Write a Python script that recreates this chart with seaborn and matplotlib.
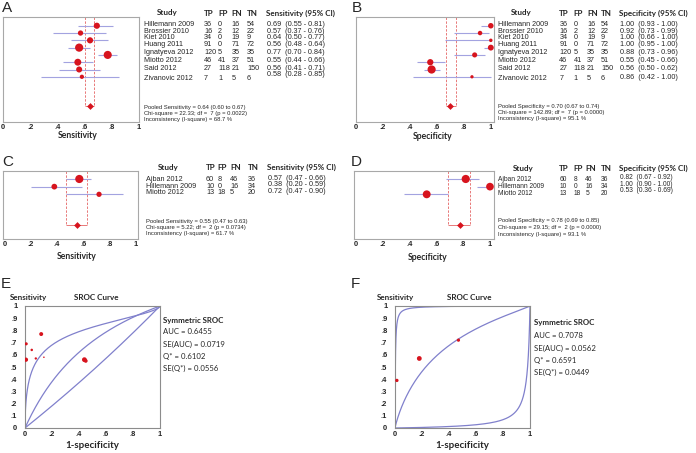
import numpy as np
import pandas as pd
import matplotlib
matplotlib.use("Agg")
import matplotlib.pyplot as plt
import seaborn as sns

# ---------------- data ----------------
studies_ab = ["Hillemann 2009", "Brossier 2010", "Kiet 2010", "Huang 2011",
              "Ignatyeva 2012", "Miotto 2012", "Said 2012", "Zivanovic 2012"]
tp_ab = [36, 16, 34, 91, 120, 46, 27, 7]
fp_ab = [0, 2, 0, 0, 5, 41, 118, 1]
fn_ab = [16, 12, 19, 71, 35, 37, 21, 5]
tn_ab = [54, 22, 9, 72, 35, 51, 150, 6]
sens_ab = [0.69, 0.57, 0.64, 0.56, 0.77, 0.55, 0.56, 0.58]
sens_lo_ab = [0.55, 0.37, 0.50, 0.48, 0.70, 0.44, 0.41, 0.28]
sens_hi_ab = [0.81, 0.76, 0.77, 0.64, 0.84, 0.66, 0.71, 0.85]
spec_ab = [1.00, 0.92, 1.00, 1.00, 0.88, 0.55, 0.56, 0.86]
spec_lo_ab = [0.93, 0.73, 0.66, 0.95, 0.73, 0.45, 0.50, 0.42]
spec_hi_ab = [1.00, 0.99, 1.00, 1.00, 0.96, 0.66, 0.62, 1.00]
pooled_sens_ab = [0.64, 0.60, 0.67]
pooled_spec_ab = [0.70, 0.67, 0.74]

studies_cd = ["Ajban 2012", "Hillemann 2009", "Miotto 2012"]
tp_cd = [60, 10, 13]
fp_cd = [8, 0, 18]
fn_cd = [46, 16, 5]
tn_cd = [36, 34, 20]
sens_cd = [0.57, 0.38, 0.72]
sens_lo_cd = [0.47, 0.20, 0.47]
sens_hi_cd = [0.66, 0.59, 0.90]
spec_cd = [0.82, 1.00, 0.53]
spec_lo_cd = [0.67, 0.90, 0.36]
spec_hi_cd = [0.92, 1.00, 0.69]
pooled_sens_cd = [0.55, 0.47, 0.63]
pooled_spec_cd = [0.78, 0.69, 0.85]

stats_a = ["Pooled Sensitivity = 0.64 (0.60 to 0.67)",
           "Chi-square = 22.33; df =  7 (p = 0.0022)",
           "Inconsistency (I-square) = 68.7 %"]
stats_b = ["Pooled Specificity = 0.70 (0.67 to 0.74)",
           "Chi-square = 142.89; df =  7 (p = 0.0000)",
           "Inconsistency (I-square) = 95.1 %"]
stats_c = ["Pooled Sensitivity = 0.55 (0.47 to 0.63)",
           "Chi-square = 5.22; df =  2 (p = 0.0734)",
           "Inconsistency (I-square) = 61.7 %"]
stats_d = ["Pooled Specificity = 0.78 (0.69 to 0.85)",
           "Chi-square = 29.15; df =  2 (p = 0.0000)",
           "Inconsistency (I-square) = 93.1 %"]

# SROC points (1-specificity with continuity correction, sensitivity)
fpr_e = [0.009, 0.08, 0.05, 0.007, 0.12, 0.45, 0.44, 0.14]
tpr_e = [0.69, 0.57, 0.64, 0.56, 0.77, 0.55, 0.56, 0.58]
fpr_f = [0.18, 0.014, 0.47]
tpr_f = [0.57, 0.39, 0.72]
# SROC curves: logit(sens) = a + b * logit(1-spec)
curves_e = [(1.56, 0.58), (0.897, 1.0), (-0.12, 1.0)]
curves_f = [(6.0, 1.0), (1.1, 0.9), (-4.0, 1.0)]
sroc_e = ["AUC = 0.6455", "SE(AUC) = 0.0719", "Q* = 0.6102", "SE(Q*) = 0.0556"]
sroc_f = ["AUC = 0.7078", "SE(AUC) = 0.0562", "Q* = 0.6591", "SE(Q*) = 0.0449"]

tick_vals = [0, 0.2, 0.4, 0.6, 0.8, 1.0]
tick_labs = ["0", ".2", ".4", ".6", ".8", "1"]
ytick_vals = [0, .1, .2, .3, .4, .5, .6, .7, .8, .9, 1.0]
ytick_labs = ["0", ".1", ".2", ".3", ".4", ".5", ".6", ".7", ".8", ".9", "1"]

# ---------------- style ----------------
sns.set_theme(style="white")
plt.rcParams['font.family'] = ['Liberation Sans', 'DejaVu Sans']

ROWFS = 5.2
RED = "#d7141e"
CI_COL = "#a3a3e0"
PINK = "#e87878"
FRAME = "#a8a8a8"
CURVE = "#8080cc"
HEAD = dict(family=['Lato', 'DejaVu Sans'], fontweight='bold')

W, H = 696, 453
fig = plt.figure(figsize=(6.96, 4.53), dpi=100)


def add_ax(l, t, r, b):
    return fig.add_axes([l / W, 1 - b / H, (r - l) / W, (b - t) / H])


def txt(x, y, s, **kw):
    kw.setdefault('va', 'center')
    kw.setdefault('ha', 'left')
    fig.text(x / W, 1 - y / H, s, **kw)


def frame(ax, col):
    for sp in ax.spines.values():
        sp.set_visible(True)
        sp.set_color(col)
        sp.set_linewidth(0.8)


def forest(box, xlim, ylim, est, lo, hi, n, pooled, prow):
    ax = add_ax(*box)
    rows = np.arange(1, len(est) + 1)
    ax.hlines(rows, lo, hi, color=CI_COL, lw=0.8, zorder=2)
    n = np.asarray(n, float)
    r_px = 4.1 * (n / n.max()) ** 0.25
    s = (2 * r_px * 0.72) ** 2
    sns.scatterplot(x=est, y=rows, s=s, color=RED, linewidth=0, ax=ax,
                    zorder=3, legend=False, clip_on=False)
    p, plo, phi = pooled
    ax.vlines([plo, phi], ylim[1], prow, colors=PINK, lw=0.7,
              linestyles=(0, (2.5, 1.5)), zorder=1)
    ax.hlines([prow], plo, phi, colors=PINK, lw=0.7, zorder=1)
    sns.scatterplot(x=[p], y=[prow], s=12, marker='D', color=RED,
                    linewidth=0, ax=ax, zorder=3, legend=False)
    ax.set_xlim(*xlim)
    ax.set_ylim(*ylim)
    ax.set_xticks(tick_vals)
    ax.set_xticklabels(tick_labs, fontweight='bold')
    ax.set_yticks([])
    ax.tick_params(axis='x', length=0, pad=1.2, labelsize=5.4)
    ax.set_xlabel("")
    ax.set_ylabel("")
    frame(ax, FRAME)
    return ax


def sroc(box, fpr, tpr, N, curves):
    ax = add_ax(*box)
    t = np.linspace(-12, 12, 600)
    for a, b in curves:
        cx = 1 / (1 + np.exp(-t))
        cy = 1 / (1 + np.exp(-(a + b * t)))
        sns.lineplot(x=cx, y=cy, sort=False, estimator=None, color=CURVE,
                     lw=0.9, ax=ax, zorder=2)
    N = np.asarray(N, float)
    r_px = 2.4 * (N / N.max()) ** 0.4
    s = (2 * r_px * 0.72) ** 2
    sns.scatterplot(x=fpr, y=tpr, s=s, color=RED, linewidth=0, ax=ax,
                    zorder=3, legend=False)
    ax.set_xlim(0, 1)
    ax.set_ylim(0, 1)
    ax.set_xticks(tick_vals)
    ax.set_xticklabels(tick_labs, fontweight='bold')
    ax.set_yticks(ytick_vals)
    ax.set_yticklabels(ytick_labs, fontweight='bold')
    ax.tick_params(axis='x', length=0, pad=2, labelsize=5.4)
    ax.tick_params(axis='y', length=0, pad=5.5, labelsize=5.4)
    ax.set_xlabel("")
    ax.set_ylabel("")
    frame(ax, "#8c8c8c")
    return ax


def table(x_name, x_study, x_cols, x_val, y_head, head_lab, ys, ys_val,
          names, tp, fp, fn, tn, est, lo, hi, fs=ROWFS):
    txt(x_study, y_head, "Study", ha='center', fontsize=5.8, **HEAD)
    for xc, lab in zip(x_cols, ["TP", "FP", "FN", "TN"]):
        txt(xc, y_head, lab, fontsize=5.8, **HEAD)
    txt(x_val - 1, y_head, head_lab, fontsize=5.8, **HEAD)
    for i in range(len(names)):
        txt(x_name, ys[i], names[i], fontsize=fs)
        for xc, v in zip(x_cols, [tp[i], fp[i], fn[i], tn[i]]):
            txt(xc, ys[i], str(v), fontsize=fs)
        txt(x_val, ys_val[i], f"{est[i]:.2f}  ({lo[i]:.2f} - {hi[i]:.2f})",
            fontsize=fs)


def stats(x, ys, lines):
    for y, s in zip(ys, lines):
        txt(x, y, s, fontsize=4.2)


# ---------------- panel A ----------------
forest((3, 17, 139, 122), (0.0, 1.0), (14.2, -0.2), sens_ab, sens_lo_ab,
       sens_hi_ab, np.add(tp_ab, fn_ab), pooled_sens_ab, 12)
rows_ab = [24.5, 31.5, 37.8, 44.8, 52.7, 60.8, 68.8, 78.0]
table(144, 167.5, [204, 218, 231.5, 247], 267, 13,
      "Sensitivity (95% CI)", rows_ab, rows_ab[:-1] + [74.5], studies_ab,
      tp_ab, fp_ab, fn_ab, tn_ab, sens_ab, sens_lo_ab, sens_hi_ab)
stats(144, [107, 113, 119], stats_a)
txt(77.7, 136, "Sensitivity", ha='center', fontsize=6.2, **HEAD)
txt(2, 8, "A", fontsize=11)

# ---------------- panel B ----------------
forest((356, 17, 493.5, 122), (-0.002, 1.02), (14.2, -0.2), spec_ab,
       spec_lo_ab, spec_hi_ab, np.add(fp_ab, tn_ab), pooled_spec_ab, 12)
table(497.7, 521, [559.3, 573.5, 587, 601], 620, 13,
      "Specificity (95% CI)", rows_ab, rows_ab[:-1] + [77.3], studies_ab,
      tp_ab, fp_ab, fn_ab, tn_ab, spec_ab, spec_lo_ab, spec_hi_ab)
stats(497.7, [106.7, 112.7, 118.3], stats_b)
txt(432.7, 136.5, "Specificity", ha='center', fontsize=6.2, **HEAD)
txt(352, 8, "B", fontsize=11)

# ---------------- panel C ----------------
forest((3.3, 170.7, 137.7, 239), (-0.008, 1.014), (8.83, -0.08), sens_cd,
       sens_lo_cd, sens_hi_cd, np.add(tp_cd, fn_cd), pooled_sens_cd, 7)
table(145.7, 167.8, [206, 217.5, 230, 248], 268, 167.7,
      "Sensitivity (95% CI)", [179.3, 186.3, 192.7], [179, 185, 191.7],
      studies_cd, tp_cd, fp_cd, fn_cd, tn_cd, sens_cd, sens_lo_cd,
      sens_hi_cd)
stats(145.7, [221.7, 227.7, 233.3], stats_c)
txt(76.8, 256.7, "Sensitivity", ha='center', fontsize=6.2, **HEAD)
txt(2, 162.5, "C", fontsize=11)

# ---------------- panel D ----------------
forest((354.3, 170.7, 494, 239), (-0.008, 1.03), (8.83, -0.08), spec_cd,
       spec_lo_cd, spec_hi_cd, np.add(fp_cd, tn_cd), pooled_spec_cd, 7)
table(497.7, 523.3, [559.3, 573.7, 585.3, 601], 620, 168.3,
      "Specificity (95% CI)", [179.3, 186.3, 193.3], [177.7, 184, 190.7],
      studies_cd, tp_cd, fp_cd, fn_cd, tn_cd, spec_cd, spec_lo_cd,
      spec_hi_cd, fs=4.8)
stats(497.7, [220, 227.3, 234.3], stats_d)
txt(428, 258, "Specificity", ha='center', fontsize=6.2, **HEAD)
txt(351, 162, "D", fontsize=11)

# ---------------- panel E ----------------
sroc((25, 306, 160, 428), fpr_e, tpr_e,
     np.add(np.add(tp_ab, fp_ab), np.add(fn_ab, tn_ab)), curves_e)
txt(28.5, 297.7, "Sensitivity", ha='center', fontsize=5.8, **HEAD)
txt(96.7, 297.7, "SROC Curve", ha='center', fontsize=5.8, **HEAD)
txt(92.5, 445, "1-specificity", ha='center', fontsize=7, **HEAD)
txt(163, 320, "Symmetric SROC", fontsize=5.7, **HEAD)
for y, s in zip([332, 344, 356, 368], sroc_e):
    txt(163, y, s, fontsize=5.6, family=['Lato', 'DejaVu Sans'])
txt(1, 284.5, "E", fontsize=11)

# ---------------- panel F ----------------
sroc((395, 306, 530, 428), fpr_f, tpr_f,
     np.add(np.add(tp_cd, fp_cd), np.add(fn_cd, tn_cd)), curves_f)
txt(395.7, 297.7, "Sensitivity", ha='center', fontsize=5.8, **HEAD)
txt(469, 297.7, "SROC Curve", ha='center', fontsize=5.8, **HEAD)
txt(462.5, 445.7, "1-specificity", ha='center', fontsize=7, **HEAD)
txt(534, 323, "Symmetric SROC", fontsize=5.7, **HEAD)
for y, s in zip([336, 348, 360, 372], sroc_f):
    txt(534, y, s, fontsize=5.6, family=['Lato', 'DejaVu Sans'])
txt(351, 284.5, "F", fontsize=11)

fig.savefig("out.png", dpi=100)
